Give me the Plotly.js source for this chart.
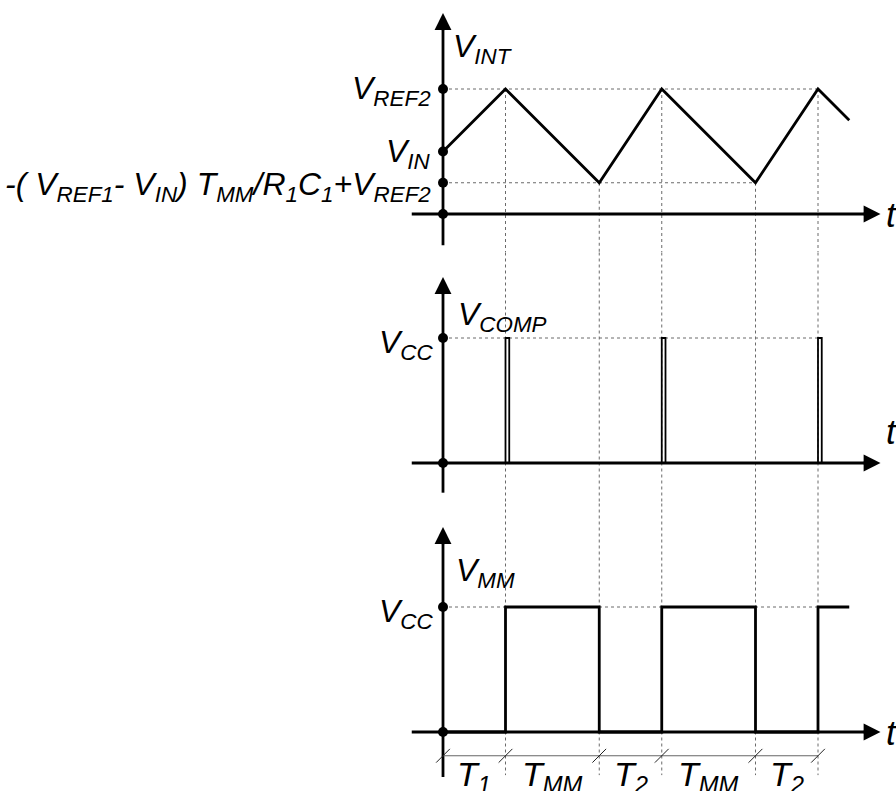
<!DOCTYPE html>
<html>
<head>
<meta charset="utf-8">
<script src="https://cdn.plot.ly/plotly-3.0.1.min.js"></script>
<style>
  html, body { margin: 0; padding: 0; background: #ffffff; }
  #chart { width: 896px; height: 791px; }
</style>
</head>
<body>
<div id="chart"></div>
<script>
// ---- timing data (time in units of one clock step, voltage in arbitrary units) ----
const eventTimes = [0, 2, 5, 7, 10, 12];          // switching instants
const endTime = 13;

// integrator output V_INT
const vintTimes  = [0, 2, 5, 7, 10, 12, 13];
const vintValues = [2, 4, 1, 4, 1, 4, 3];
const vintLevels = [4, 2, 1, 0];
const vintLevelLabels = [
  'V<sub>REF2</sub>',
  'V<sub>IN</sub>',
  '-( V<sub>REF1</sub>- V<sub>IN</sub>) T<sub>MM</sub>/R<sub>1</sub>C<sub>1</sub>+V<sub>REF2</sub>',
  ''
];

// comparator output V_COMP: short pulses at every peak
const vcc = 4;
const compPulseTimes = [2, 7, 12];
const compPulseWidth = 0.12;

// monostable output V_MM
const vmmTimes  = [0, 2, 2, 5, 5, 7, 7, 10, 10, 12, 12, 13];
const vmmValues = [0, 0, 4, 4, 0, 0, 4, 4, 0, 0, 4, 4];

// interval names under the time axis
const intervalLabels = ['T<sub>1</sub>', 'T<sub>MM</sub>', 'T<sub>2</sub>', 'T<sub>MM</sub>', 'T<sub>2</sub>'];

// ---- drawing ----
const W = 896, H = 791;
const unit = 31.25;                 // pixels per unit on every axis
const originPx = 443;               // horizontal pixel of t = 0

const FONT = 'Liberation Sans, Arial, Helvetica, sans-serif';
const GUIDE = { color: '#6a6a6a', width: 1, dash: 'dot' };
const INK = '#000000';

function panelAxis(topPx, bottomPx, zeroPx) {
  return {
    domain: [(H - bottomPx) / H, (H - topPx) / H],
    range: [-(bottomPx - zeroPx) / unit, (zeroPx - topPx) / unit],
    visible: false, fixedrange: true
  };
}

const panels = [
  { ax: 'y',  top: 0,   bottom: 252, zero: 214, axisLow: -1.0,  axisTip: 6.43 },
  { ax: 'y2', top: 252, bottom: 503, zero: 463, axisLow: -0.95, axisTip: 5.95 },
  { ax: 'y3', top: 503, bottom: 791, zero: 732, axisLow: -1.44, axisTip: 6.56 }
];

const traces = [];
const annotations = [];

function segs(list) {
  const x = [], y = [];
  list.forEach(s => { x.push(s[0], s[2], null); y.push(s[1], s[3], null); });
  return { x, y };
}

// dotted guides -------------------------------------------------------------
const levelAt = t => vintValues[vintTimes.indexOf(t)];
const peakTimes = eventTimes.filter((t, i) => i > 0 && levelAt(t) === 4);
const valleyTimes = eventTimes.filter((t, i) => i > 0 && levelAt(t) === 1);
const lastPeak = Math.max(...peakTimes), lastValley = Math.max(...valleyTimes);

// top panel
{
  const list = [];
  eventTimes.slice(1).forEach(t => list.push([t, levelAt(t), t, -10]));
  list.push([0, 4, lastPeak, 4]);
  list.push([0, 1, lastValley, 1]);
  const s = segs(list);
  traces.push({ type: 'scatter', mode: 'lines', x: s.x, y: s.y, yaxis: 'y', line: GUIDE, hoverinfo: 'skip' });
}
// middle panel
{
  const list = [];
  eventTimes.slice(1).forEach(t => list.push([t, 10, t, -10]));
  list.push([0, vcc, lastPeak, vcc]);
  const s = segs(list);
  traces.push({ type: 'scatter', mode: 'lines', x: s.x, y: s.y, yaxis: 'y2', line: GUIDE, hoverinfo: 'skip' });
}
// bottom panel
{
  const list = [];
  eventTimes.slice(1).forEach(t => list.push([t, 10, t, -1.38]));
  list.push([0, vcc, lastPeak, vcc]);
  const s = segs(list);
  traces.push({ type: 'scatter', mode: 'lines', x: s.x, y: s.y, yaxis: 'y3', line: GUIDE, hoverinfo: 'skip' });
}

// axes: plain line segments, arrowheads added as annotations ---------------
panels.forEach(p => {
  traces.push({
    type: 'scatter', mode: 'lines', yaxis: p.ax, hoverinfo: 'skip',
    x: [0, 0, null, -1, 13.5], y: [p.axisLow, p.axisTip - 0.3, null, 0, 0],
    line: { color: INK, width: 2.8 }
  });
  annotations.push({
    x: 0, y: p.axisTip, xref: 'x', yref: p.ax, ax: 0, ay: p.axisTip - 0.6,
    axref: 'x', ayref: p.ax, text: '', showarrow: true,
    arrowhead: 2, arrowsize: 1.25, arrowwidth: 2.7, arrowcolor: INK
  });
  annotations.push({
    x: 14.0, y: 0, xref: 'x', yref: p.ax, ax: 13.4, ay: 0,
    axref: 'x', ayref: p.ax, text: '', showarrow: true,
    arrowhead: 2, arrowsize: 1.25, arrowwidth: 2.7, arrowcolor: INK
  });
});

// signals -------------------------------------------------------------------
traces.push({ type: 'scatter', mode: 'lines', x: vintTimes, y: vintValues, yaxis: 'y',
  line: { color: INK, width: 2.8 }, hoverinfo: 'skip' });

compPulseTimes.forEach(t => {
  traces.push({ type: 'scatter', mode: 'lines', yaxis: 'y2', hoverinfo: 'skip',
    x: [t, t, t + compPulseWidth, t + compPulseWidth], y: [0, vcc, vcc, 0],
    line: { color: INK, width: 1.8 } });
});

traces.push({ type: 'scatter', mode: 'lines', x: vmmTimes, y: vmmValues, yaxis: 'y3',
  line: { color: INK, width: 2.8 }, hoverinfo: 'skip' });

// interval dimension line with slash ticks
const dimY = -0.76;
traces.push({ type: 'scatter', mode: 'lines', yaxis: 'y3', hoverinfo: 'skip',
  x: [0, eventTimes[eventTimes.length - 1]], y: [dimY, dimY],
  line: { color: '#666666', width: 1 } });
{
  const list = eventTimes.map(t => [t - 0.22, dimY - 0.22, t + 0.22, dimY + 0.22]);
  const s = segs(list);
  traces.push({ type: 'scatter', mode: 'lines', x: s.x, y: s.y, yaxis: 'y3',
    line: { color: '#222222', width: 1 }, hoverinfo: 'skip' });
}

// dots on the vertical axes
traces.push({ type: 'scatter', mode: 'markers', yaxis: 'y', x: vintLevels.map(() => 0), y: vintLevels,
  marker: { color: INK, size: 10 }, hoverinfo: 'skip' });
traces.push({ type: 'scatter', mode: 'markers', yaxis: 'y2', x: [0, 0], y: [vcc, 0],
  marker: { color: INK, size: 10 }, hoverinfo: 'skip' });
traces.push({ type: 'scatter', mode: 'markers', yaxis: 'y3', x: [0, 0], y: [vcc, 0],
  marker: { color: INK, size: 10 }, hoverinfo: 'skip' });

// text ----------------------------------------------------------------------
function label(text, x, y, yref, xanchor, size) {
  annotations.push({
    text, x, y, xref: 'x', yref, xanchor, yanchor: 'middle', showarrow: false,
    font: { family: FONT, size: size || 32, color: INK, style: 'italic' }
  });
}

// top panel
label('V<sub>INT</sub>', 0.26, 5.3, 'y', 'left');
label(vintLevelLabels[0], -0.33, 3.95, 'y', 'right');
label(vintLevelLabels[1], -0.33, 1.95, 'y', 'right');
label(vintLevelLabels[2], -0.33, 0.88, 'y', 'right', 32);
label('t', 14.1, 0, 'y', 'left', 35);

// middle panel
label('V<sub>COMP</sub>', 0.42, 4.7, 'y2', 'left');
label('V<sub>CC</sub>', -0.22, 3.78, 'y2', 'right');
label('t', 14.1, 1.0, 'y2', 'left', 35);

// bottom panel
label('V<sub>MM</sub>', 0.36, 5.1, 'y3', 'left');
label('V<sub>CC</sub>', -0.22, 3.78, 'y3', 'right');
label('t', 14.1, 0, 'y3', 'left', 35);

intervalLabels.forEach((txt, i) => {
  const mid = (eventTimes[i] + eventTimes[i + 1]) / 2;
  label(txt, mid, -1.42, 'y3', 'center', 34);
});

const layout = {
  width: W, height: H,
  margin: { l: 0, r: 0, t: 0, b: 0, pad: 0 },
  paper_bgcolor: '#ffffff', plot_bgcolor: 'rgba(0,0,0,0)',
  showlegend: false,
  xaxis: { range: [-originPx / unit, (W - originPx) / unit], visible: false, fixedrange: true },
  yaxis:  Object.assign(panelAxis(panels[0].top, panels[0].bottom, panels[0].zero), { anchor: 'x' }),
  yaxis2: Object.assign(panelAxis(panels[1].top, panels[1].bottom, panels[1].zero), { anchor: 'x' }),
  yaxis3: Object.assign(panelAxis(panels[2].top, panels[2].bottom, panels[2].zero), { anchor: 'x' }),
  annotations
};

Plotly.newPlot('chart', traces, layout, { staticPlot: true, displayModeBar: false });
</script>
</body>
</html>
